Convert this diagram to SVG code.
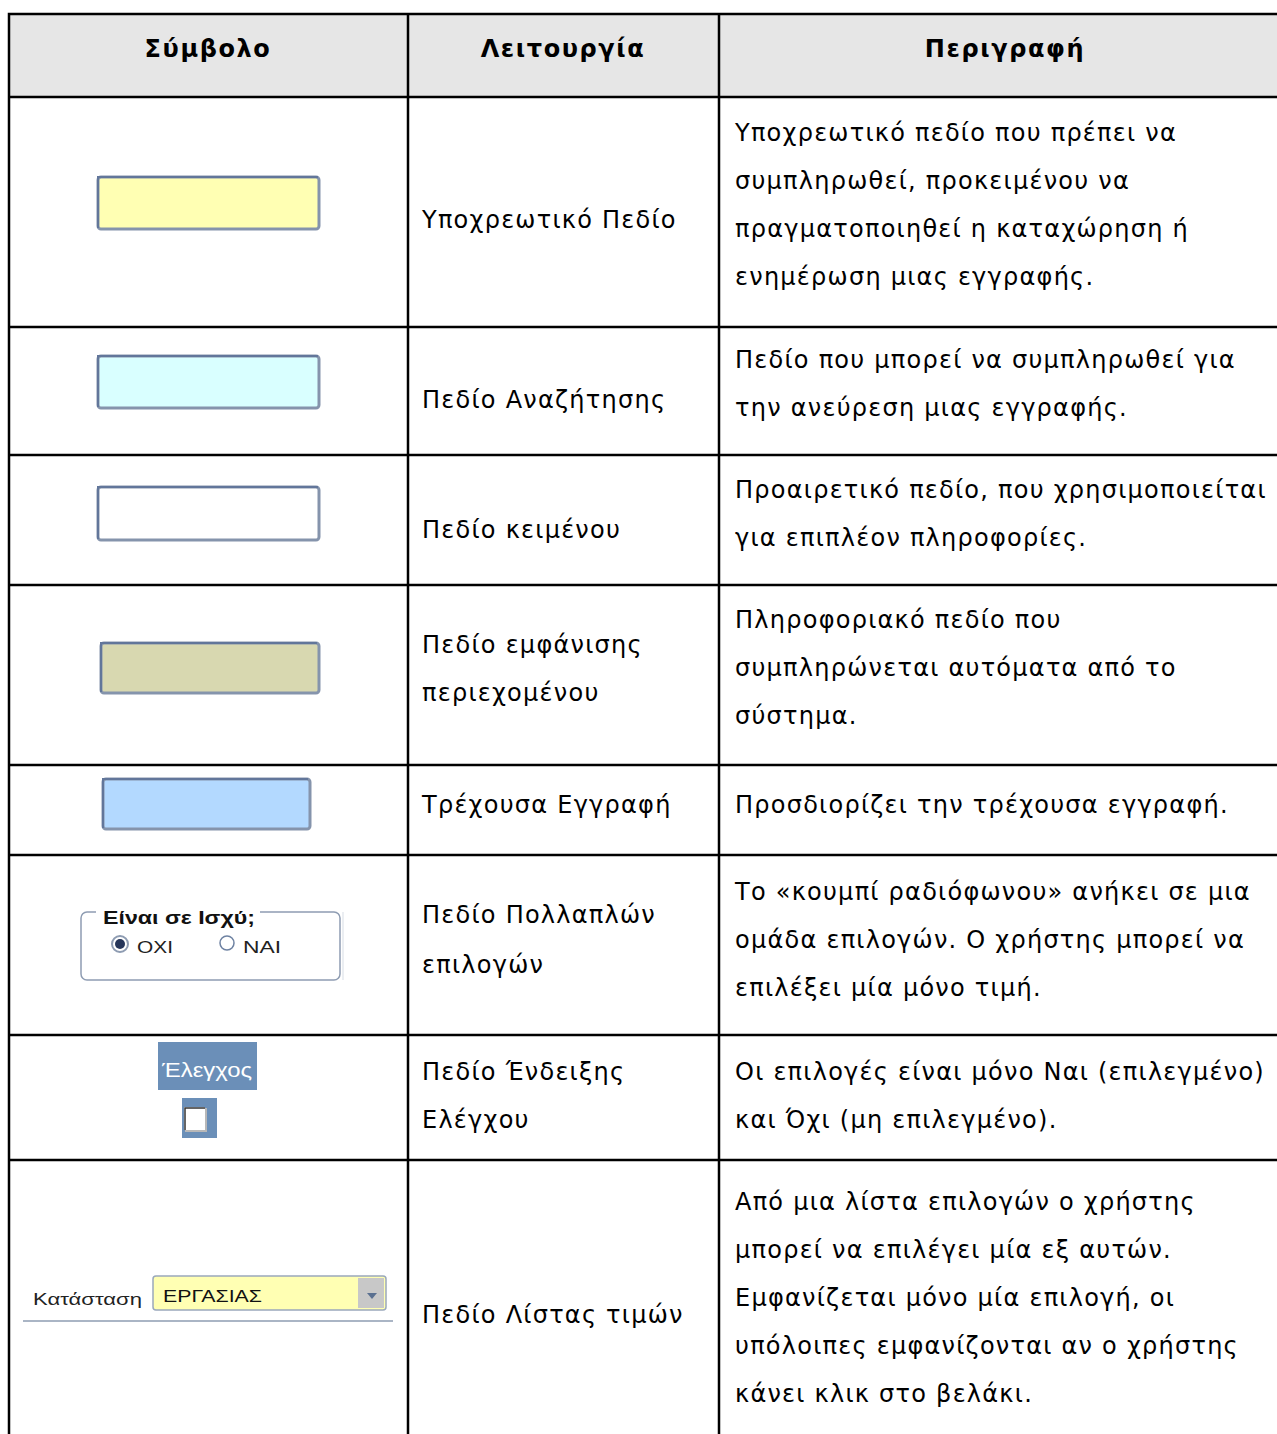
<svg xmlns="http://www.w3.org/2000/svg" width="1277" height="1434" viewBox="0 0 1277 1434">
<style>
.hd{font-family:"DejaVu Sans",Verdana,sans-serif;font-size:24px;font-weight:bold;fill:#000;text-anchor:middle;letter-spacing:1.6px}
.t{font-family:"DejaVu Sans",Verdana,sans-serif;font-size:24px;fill:#000;letter-spacing:1.25px}
.grid{stroke:#000;stroke-width:2.5;fill:none}
.ui{font-family:"Liberation Sans",Arial,sans-serif;fill:#222}
.box{stroke:#8594ac;stroke-width:3}
.boxin{stroke:#62769a;stroke-width:2;fill:none}
</style>
<rect x="8" y="13" width="1290" height="84" fill="#e6e6e6"/>
<g id="grid">
<path class="grid" d="M9 1434V14H1290M408 14V1434M719 14V1434M9 97H1290M9 327H1290M9 455H1290M9 585H1290M9 765H1290M9 855H1290M9 1035H1290M9 1160H1290"/>
</g>
<g id="header">
<text class="hd" x="208" y="57">Σύμβολο</text>
<text class="hd" x="563" y="57">Λειτουργία</text>
<text class="hd" x="1005" y="57">Περιγραφή</text>
</g>
<g id="row1">
<rect class="box" x="98" y="177" width="221" height="52" rx="3" fill="#ffffb3"/>
<path class="boxin" d="M98 228V177H318"/>
<text class="t" x="422" y="228">Υποχρεωτικό Πεδίο</text>
<text class="t" x="735" y="141">Υποχρεωτικό πεδίο που πρέπει να</text>
<text class="t" x="735" y="189">συμπληρωθεί, προκειμένου να</text>
<text class="t" x="735" y="237">πραγματοποιηθεί η καταχώρηση ή</text>
<text class="t" x="735" y="285">ενημέρωση μιας εγγραφής.</text>
</g>
<g id="row2">
<rect class="box" x="98" y="356" width="221" height="52" rx="3" fill="#d9ffff"/>
<path class="boxin" d="M98 407V356H318"/>
<text class="t" x="422" y="408">Πεδίο Αναζήτησης</text>
<text class="t" x="735" y="368">Πεδίο που μπορεί να συμπληρωθεί για</text>
<text class="t" x="735" y="416">την ανεύρεση μιας εγγραφής.</text>
</g>
<g id="row3">
<rect class="box" x="98" y="487" width="221" height="53" rx="3" fill="#ffffff"/>
<path class="boxin" d="M98 539V487H318"/>
<text class="t" x="422" y="538">Πεδίο κειμένου</text>
<text class="t" x="735" y="498">Προαιρετικό πεδίο, που χρησιμοποιείται</text>
<text class="t" x="735" y="546">για επιπλέον πληροφορίες.</text>
</g>
<g id="row4">
<rect class="box" x="101" y="643" width="218" height="50" rx="3" fill="#d8d8b0"/>
<path class="boxin" d="M101 692V643H317"/>
<text class="t" x="422" y="653">Πεδίο εμφάνισης</text>
<text class="t" x="422" y="701">περιεχομένου</text>
<text class="t" x="735" y="628">Πληροφοριακό πεδίο που</text>
<text class="t" x="735" y="676">συμπληρώνεται αυτόματα από το</text>
<text class="t" x="735" y="724">σύστημα.</text>
</g>
<g id="row5">
<rect class="box" x="103" y="779" width="207" height="50" rx="3" fill="#b3d9ff"/>
<path class="boxin" d="M103 828V779H308"/>
<text class="t" x="422" y="813">Τρέχουσα Εγγραφή</text>
<text class="t" x="735" y="813">Προσδιορίζει την τρέχουσα εγγραφή.</text>
</g>
<g id="row6">
<rect x="81" y="912" width="259" height="68" rx="6" fill="none" stroke="#8e9cb2" stroke-width="1.5"/>
<rect x="96" y="902" width="164" height="20" fill="#fff"/>
<line x1="343" y1="912" x2="343" y2="980" stroke="#e4e8ee" stroke-width="1.5"/>
<text class="ui" x="103" y="924" font-size="19" font-weight="bold" textLength="152" lengthAdjust="spacingAndGlyphs" style="fill:#111">Είναι σε Ισχύ;</text>
<circle cx="120" cy="944" r="8" fill="#fff" stroke="#8e9cb2" stroke-width="2"/>
<circle cx="120" cy="944" r="5" fill="#26365a"/>
<text class="ui" x="137" y="953" font-size="17" textLength="36" lengthAdjust="spacingAndGlyphs">OXI</text>
<circle cx="227" cy="943" r="7" fill="#fff" stroke="#6e82a2" stroke-width="1.5"/>
<text class="ui" x="243" y="953" font-size="17" textLength="38" lengthAdjust="spacingAndGlyphs">NAI</text>
<text class="t" x="422" y="923">Πεδίο Πολλαπλών</text>
<text class="t" x="422" y="973">επιλογών</text>
<text class="t" x="735" y="900">Το «κουμπί ραδιόφωνου» ανήκει σε μια</text>
<text class="t" x="735" y="948">ομάδα επιλογών. Ο χρήστης μπορεί να</text>
<text class="t" x="735" y="996">επιλέξει μία μόνο τιμή.</text>
</g>
<g id="row7">
<rect x="158" y="1042" width="99" height="48" fill="#6b8fb8"/>
<text class="ui" x="162" y="1077" font-size="20" style="fill:#fff" textLength="90" lengthAdjust="spacingAndGlyphs">Έλεγχος</text>
<rect x="182" y="1098" width="35" height="40" fill="#6b8fb8"/>
<rect x="184" y="1107" width="21" height="23" fill="#fff"/>
<path d="M185 1130V1108H205" fill="none" stroke="#333" stroke-width="1.5"/>
<path d="M185 1131H206V1108" fill="none" stroke="#b8b8b8" stroke-width="2"/>
<text class="t" x="422" y="1080">Πεδίο Ένδειξης</text>
<text class="t" x="422" y="1128">Ελέγχου</text>
<text class="t" x="735" y="1080">Οι επιλογές είναι μόνο Ναι (επιλεγμένο)</text>
<text class="t" x="735" y="1128">και Όχι (μη επιλεγμένο).</text>
</g>
<g id="row8">
<text class="ui" x="33" y="1305" font-size="17" textLength="109" lengthAdjust="spacingAndGlyphs">Κατάσταση</text>
<rect x="153" y="1276" width="233" height="34" rx="3" fill="#ffffb3" stroke="#9aa8bc" stroke-width="1.5"/>
<rect x="358" y="1278" width="26" height="30" fill="#c8c8c8"/>
<path d="M367 1293H377L372 1299Z" fill="#5a7090"/>
<text class="ui" x="163" y="1302" font-size="16" textLength="99" lengthAdjust="spacingAndGlyphs" style="fill:#111">ΕΡΓΑΣΙΑΣ</text>
<line x1="23" y1="1321" x2="393" y2="1321" stroke="#8e9cb2" stroke-width="1.5"/>
<text class="t" x="422" y="1323">Πεδίο Λίστας τιμών</text>
<text class="t" x="735" y="1210">Από μια λίστα επιλογών ο χρήστης</text>
<text class="t" x="735" y="1258">μπορεί να επιλέγει μία εξ αυτών.</text>
<text class="t" x="735" y="1306">Εμφανίζεται μόνο μία επιλογή, οι</text>
<text class="t" x="735" y="1354">υπόλοιπες εμφανίζονται αν ο χρήστης</text>
<text class="t" x="735" y="1402">κάνει κλικ στο βελάκι.</text>
</g>
</svg>
